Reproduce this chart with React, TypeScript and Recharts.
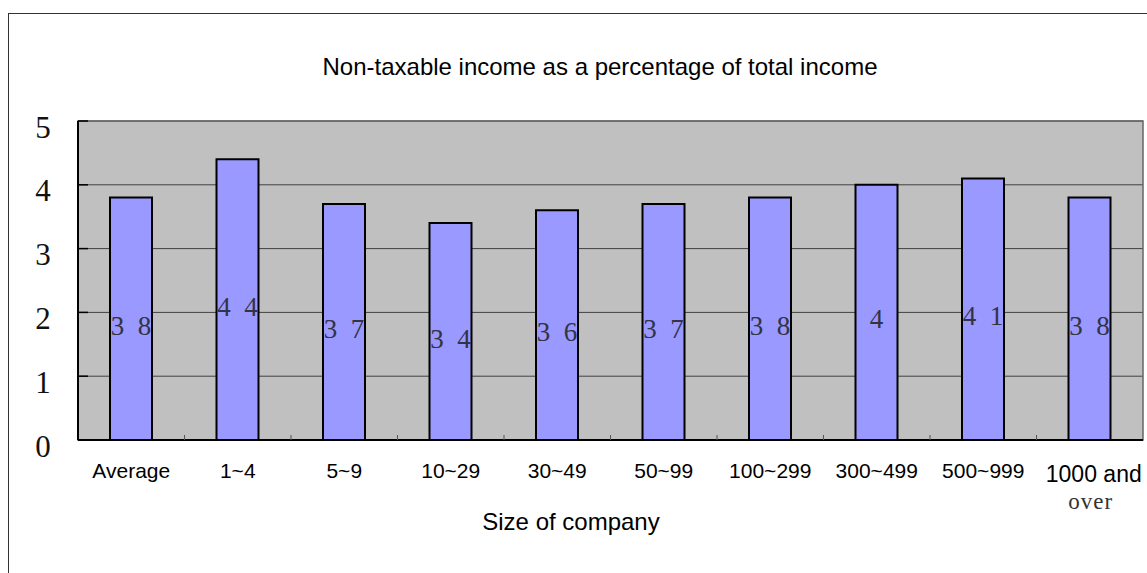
import React from "react";
import { BarChart, Bar, XAxis, YAxis, CartesianGrid, ReferenceArea, LabelList } from "recharts";

const categories = ["Average", "1~4", "5~9", "10~29", "30~49", "50~99", "100~299", "300~499", "500~999", "1000 and over"];
const shares = [3.8, 4.4, 3.7, 3.4, 3.6, 3.7, 3.8, 4, 4.1, 3.8];
const yTicks = [0, 1, 2, 3, 4, 5];

const data = categories.map((name, i) => ({ name, value: shares[i] }));

const CHART_W = 1160;
const CHART_H = 573;
const PLOT_LEFT = 78;
const PLOT_RIGHT = 17;
const BAND = (CHART_W - PLOT_LEFT - PLOT_RIGHT) / categories.length;

const sans = "'Liberation Sans', Arial, sans-serif";
const serif = "'Liberation Serif', 'Times New Roman', serif";

const YTick = (props: any) => {
	const { y, payload } = props;
	return (
		<g>
			<line x1={PLOT_LEFT} x2={PLOT_LEFT + 10} y1={y} y2={y} stroke="#000" strokeWidth={1.5} />
			<text x={PLOT_LEFT - 35} y={y + 6} textAnchor="middle" dominantBaseline="central" fontFamily={serif} fontSize={31} fill="#111">
				{payload.value}
			</text>
		</g>
	);
};

const XTick = (props: any) => {
	const { x, y, payload, index } = props;
	const label: string = payload.value;
	const boundary = index < categories.length - 1 ? (
		<line x1={x + BAND / 2} x2={x + BAND / 2} y1={y} y2={y - 5} stroke="#555" strokeWidth={1} />
	) : null;
	if (label.indexOf(" and ") > 0) {
		const cut = label.lastIndexOf(" ");
		return (
			<g>
				{boundary}
				<text x={x + 4} y={y + 42} textAnchor="middle" fontFamily={sans} fontSize={23} fill="#000">
					{label.slice(0, cut)}
				</text>
				<text x={x + 1} y={y + 69} textAnchor="middle" fontFamily={serif} fontSize={23} letterSpacing={1} fill="#333">
					{label.slice(cut + 1)}
				</text>
			</g>
		);
	}
	return (
		<g>
			{boundary}
			<text x={x} y={y + 38} textAnchor="middle" fontFamily={sans} fontSize={21} fill="#000">
				{label}
			</text>
		</g>
	);
};

const BarValue = (props: any) => {
	const { x, y, width, height, value } = props;
	return (
		<text x={x + width / 2} y={y + height / 2 + 7} textAnchor="middle" dominantBaseline="central" fontFamily={serif} fontSize={27} fill="#333344">
			{String(value).replace(".", "\u2002")}
		</text>
	);
};

const App = () => {
	return (
		<div style={{ position: "fixed", left: 0, top: 0, width: 1147, height: 573, overflow: "hidden", background: "#fff" }}>
			<div style={{ position: "absolute", left: 8, top: 13, width: 1200, height: 620, border: "1px solid #333" }} />
			<div style={{ position: "absolute", left: 0, top: 0 }}>
				<BarChart width={CHART_W} height={CHART_H} data={data} margin={{ top: 121, right: PLOT_RIGHT, bottom: 73, left: 0 }}>
					<CartesianGrid vertical={false} fill="#c0c0c0" stroke="#404040" strokeOpacity={1} />
					<ReferenceArea y1={0} y2={5} fill="none" stroke="#666" strokeWidth={1.5} ifOverflow="visible" />
					<YAxis
						width={PLOT_LEFT}
						domain={[0, 5]}
						ticks={yTicks}
						tick={<YTick />}
						tickLine={false}
						tickSize={0}
						tickMargin={0}
						axisLine={{ stroke: "#000", strokeWidth: 2 }}
					/>
					<XAxis
						dataKey="name"
						height={60}
						interval={0}
						tick={<XTick />}
						tickLine={false}
						tickSize={0}
						tickMargin={0}
						axisLine={{ stroke: "#000", strokeWidth: 2 }}
					/>
					<Bar dataKey="value" barSize={42} fill="#9999ff" stroke="#000" strokeWidth={2} isAnimationActive={false}>
						<LabelList dataKey="value" content={<BarValue />} />
					</Bar>
				</BarChart>
			</div>
			<svg style={{ position: "absolute", left: 0, top: 0, pointerEvents: "none" }} width={1147} height={573}>
				<text x={600} y={75} textAnchor="middle" fontFamily={sans} fontSize={24} fill="#000">
					Non-taxable income as a percentage of total income
				</text>
				<text x={571} y={530} textAnchor="middle" fontFamily={sans} fontSize={24} fill="#000">
					Size of company
				</text>
			</svg>
		</div>
	);
};

export default App;
